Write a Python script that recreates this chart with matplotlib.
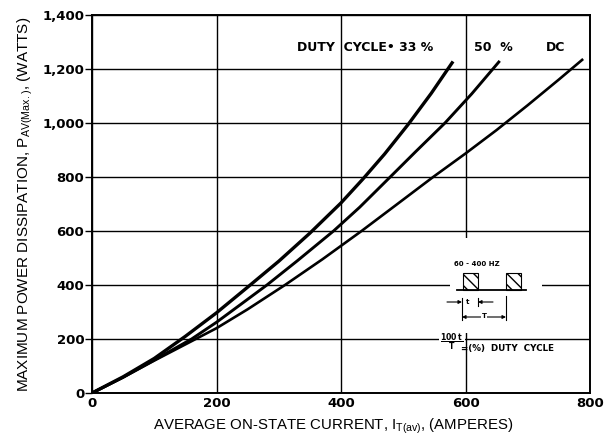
import matplotlib
matplotlib.use("Agg")
import matplotlib.pyplot as plt
from matplotlib.patches import Rectangle

# ---- data ----
x_33 = [0, 50, 100, 150, 200, 250, 300, 350, 400, 435, 470, 508, 545, 580]
y_33 = [0, 60, 128, 210, 297, 392, 488, 592, 704, 792, 885, 995, 1110, 1228]

x_50 = [0, 50, 100, 160, 200, 240, 281, 330, 388, 430, 479, 520, 567, 610, 655]
y_50 = [0, 58, 122, 200, 262, 330, 400, 490, 600, 688, 800, 894, 1000, 1108, 1230]

x_dc = [0, 50, 100, 150, 200, 250, 310, 370, 433, 490, 548, 600, 650, 700, 750, 789]
y_dc = [0, 58, 120, 180, 240, 310, 400, 495, 600, 699, 800, 887, 974, 1066, 1161, 1237]

x_ticks = [0, 200, 400, 600, 800]
x_tick_labels = ["0", "200", "400", "600", "800"]
y_ticks = [0, 200, 400, 600, 800, 1000, 1200, 1400]
y_tick_labels = ["0", "200", "400", "600", "800", "1,000", "1,200", "1,400"]

plt.rcParams['font.family'] = ['DejaVu Sans']

fig = plt.figure(figsize=(6.08, 4.38), dpi=100)
ax = fig.add_axes([92/608, 1-393/438, (590-92)/608, (393-15)/438])
ax.set_xlim(0, 800)
ax.set_ylim(0, 1400)

ax.set_xticks(x_ticks)
ax.set_xticklabels(x_tick_labels, fontsize=9.5, fontweight='bold')
ax.set_yticks(y_ticks)
ax.set_yticklabels(y_tick_labels, fontsize=9.5, fontweight='bold')
ax.tick_params(axis='y', length=5, width=1, pad=0.5, color='black')
ax.tick_params(axis='x', length=0, pad=3)
ax.grid(True, color='black', lw=1.0, zorder=1)
ax.set_axisbelow(True)
for s in ax.spines.values():
    s.set_linewidth(1.4)
    s.set_color('black')

ax.plot(x_33, y_33, color='black', lw=2.4, zorder=3, solid_capstyle='butt')
ax.plot(x_50, y_50, color='black', lw=2.1, zorder=3, solid_capstyle='butt')
ax.plot(x_dc, y_dc, color='black', lw=1.9, zorder=3, solid_capstyle='butt')

# curve labels
ax.text(329, 1281, "DUTY  CYCLE\u2022 33 %", fontsize=9, fontweight='bold',
        ha='left', va='center', zorder=5)
ax.text(644, 1281, "50  %", fontsize=9, fontweight='bold', ha='center', va='center', zorder=5)
ax.text(744, 1281, "DC", fontsize=9, fontweight='bold', ha='center', va='center', zorder=5)

# axis labels
ax.set_xlabel("AVERAGE ON-STATE CURRENT, I$_{\\mathregular{T(av)}}$, (AMPERES)",
              family='Liberation Sans', fontsize=10.8)
ax.xaxis.set_label_coords(0.485, -0.062)
ax.set_ylabel("MAXIMUM POWER DISSIPATION, P$_{\\mathregular{AV(Max.)}}$, (WATTS)",
              family='Liberation Sans', fontsize=11)
ax.yaxis.set_label_coords(-0.115, 0.5)

# ---- inset: pulse diagram ----
def px(x):
    return (x - 92) / 0.6225

def py(y):
    return (393 - y) / 0.27

ax.add_patch(Rectangle((px(450), py(333)), px(542) - px(450), py(238) - py(333),
                       facecolor='white', edgecolor='none', zorder=2))
ax.text(px(477), py(264), "60 - 400 HZ", fontsize=5, fontweight='bold',
        ha='center', va='center', zorder=5)
for x0 in (463, 506):
    ax.add_patch(Rectangle((px(x0), py(290)), px(x0 + 15) - px(x0), py(273) - py(290),
                           facecolor='white', edgecolor='black', hatch='\\\\\\',
                           lw=0.8, zorder=4))
ax.plot([px(457), px(526)], [py(290), py(290)], color='black', lw=1.3, zorder=4)
# t dimension
ax.plot([px(462), px(462)], [py(298), py(320)], color='black', lw=0.8, zorder=4)
ax.plot([px(478), px(478)], [py(298), py(306)], color='black', lw=0.8, zorder=4)
ax.plot([px(506), px(506)], [py(296), py(320)], color='black', lw=0.8, zorder=4)
ax.annotate("", xy=(px(462), py(302)), xytext=(px(447), py(302)),
            arrowprops=dict(arrowstyle='-|>', color='black', lw=0.8,
                            mutation_scale=5, shrinkA=0, shrinkB=0), zorder=4)
ax.annotate("", xy=(px(478), py(302)), xytext=(px(493), py(302)),
            arrowprops=dict(arrowstyle='-|>', color='black', lw=0.8,
                            mutation_scale=5, shrinkA=0, shrinkB=0), zorder=4)
ax.text(px(468), py(302), "t", fontsize=5, fontweight='bold', ha='center',
        va='center', zorder=5)
ax.annotate("", xy=(px(462), py(317)), xytext=(px(506), py(317)),
            arrowprops=dict(arrowstyle='<|-|>', color='black', lw=0.8,
                            mutation_scale=5, shrinkA=0, shrinkB=0), zorder=4)
ax.text(px(484), py(316), "T", fontsize=5, fontweight='bold', ha='center',
        va='center', zorder=5, bbox=dict(facecolor='white', edgecolor='none', pad=0.3))
# fraction
ax.text(px(452), py(342), "$\\mathbf{\\frac{100\\,t}{T}}$", fontsize=8, ha='center',
        va='center', zorder=5, bbox=dict(facecolor='white', edgecolor='none', pad=1.0))
ax.text(px(461), py(348), "=(%)  DUTY  CYCLE", fontsize=6.3, fontweight='bold',
        ha='left', va='center', zorder=5)

fig.savefig("out.png", dpi=100)
